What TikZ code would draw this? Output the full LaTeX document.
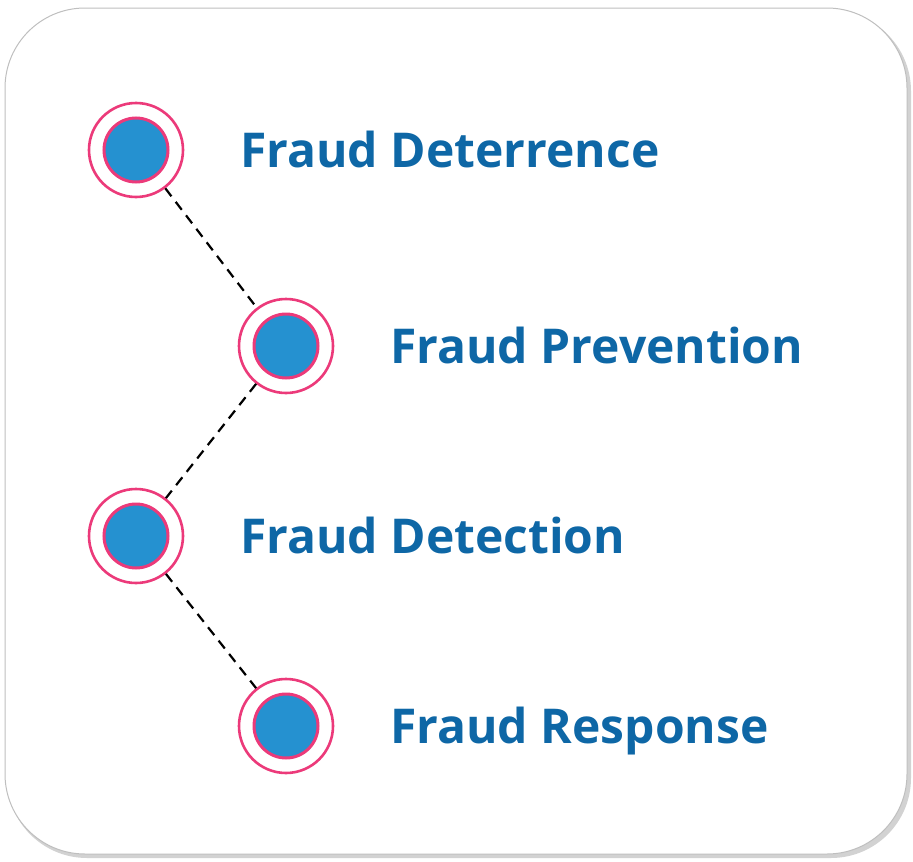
\documentclass[tikz,border=0pt]{standalone}
\usepackage{fontspec}
\setmainfont{Open Sans}
\begin{document}
\begin{tikzpicture}[x=1pt,y=-1pt,
  ring/.style={circle,draw=pinkc,line width=2.6pt,minimum size=94pt,inner sep=0pt},
  dot/.style={circle,draw=pinkc,fill=bluec,line width=3pt,minimum size=64pt,inner sep=0pt},
  lbl/.style={anchor=base west,text=textc,font=\bfseries\fontsize{48}{52}\selectfont,inner sep=0pt},
  link/.style={line width=2.2pt,dash pattern=on 10pt off 7pt}]
\definecolor{pinkc}{HTML}{EC3A7A}
\definecolor{bluec}{HTML}{2591D0}
\definecolor{textc}{HTML}{0E67A6}
\useasboundingbox (0,0) rectangle (913,862);
\fill[gray!35] (7,11) [rounded corners=80pt] rectangle (911,858);
\draw[gray!50,fill=white,line width=1pt] (5,8) [rounded corners=80pt] rectangle (907,854);
\foreach \n/\x/\y/\t in {a/136/150/Fraud Deterrence, b/286/346/Fraud Prevention, c/136/536/Fraud Detection, d/286/726/Fraud Response}{
  \node[ring] (r\n) at (\x,\y) {};
  \node[dot] (d\n) at (\x,\y) {};
  \node[lbl] (t\n) at (\x+104,\y+17) {\t};
}
\draw[link] (ra) -- (rb);
\draw[link] (rb) -- (rc);
\draw[link] (rc) -- (rd);
\end{tikzpicture}
\end{document}
